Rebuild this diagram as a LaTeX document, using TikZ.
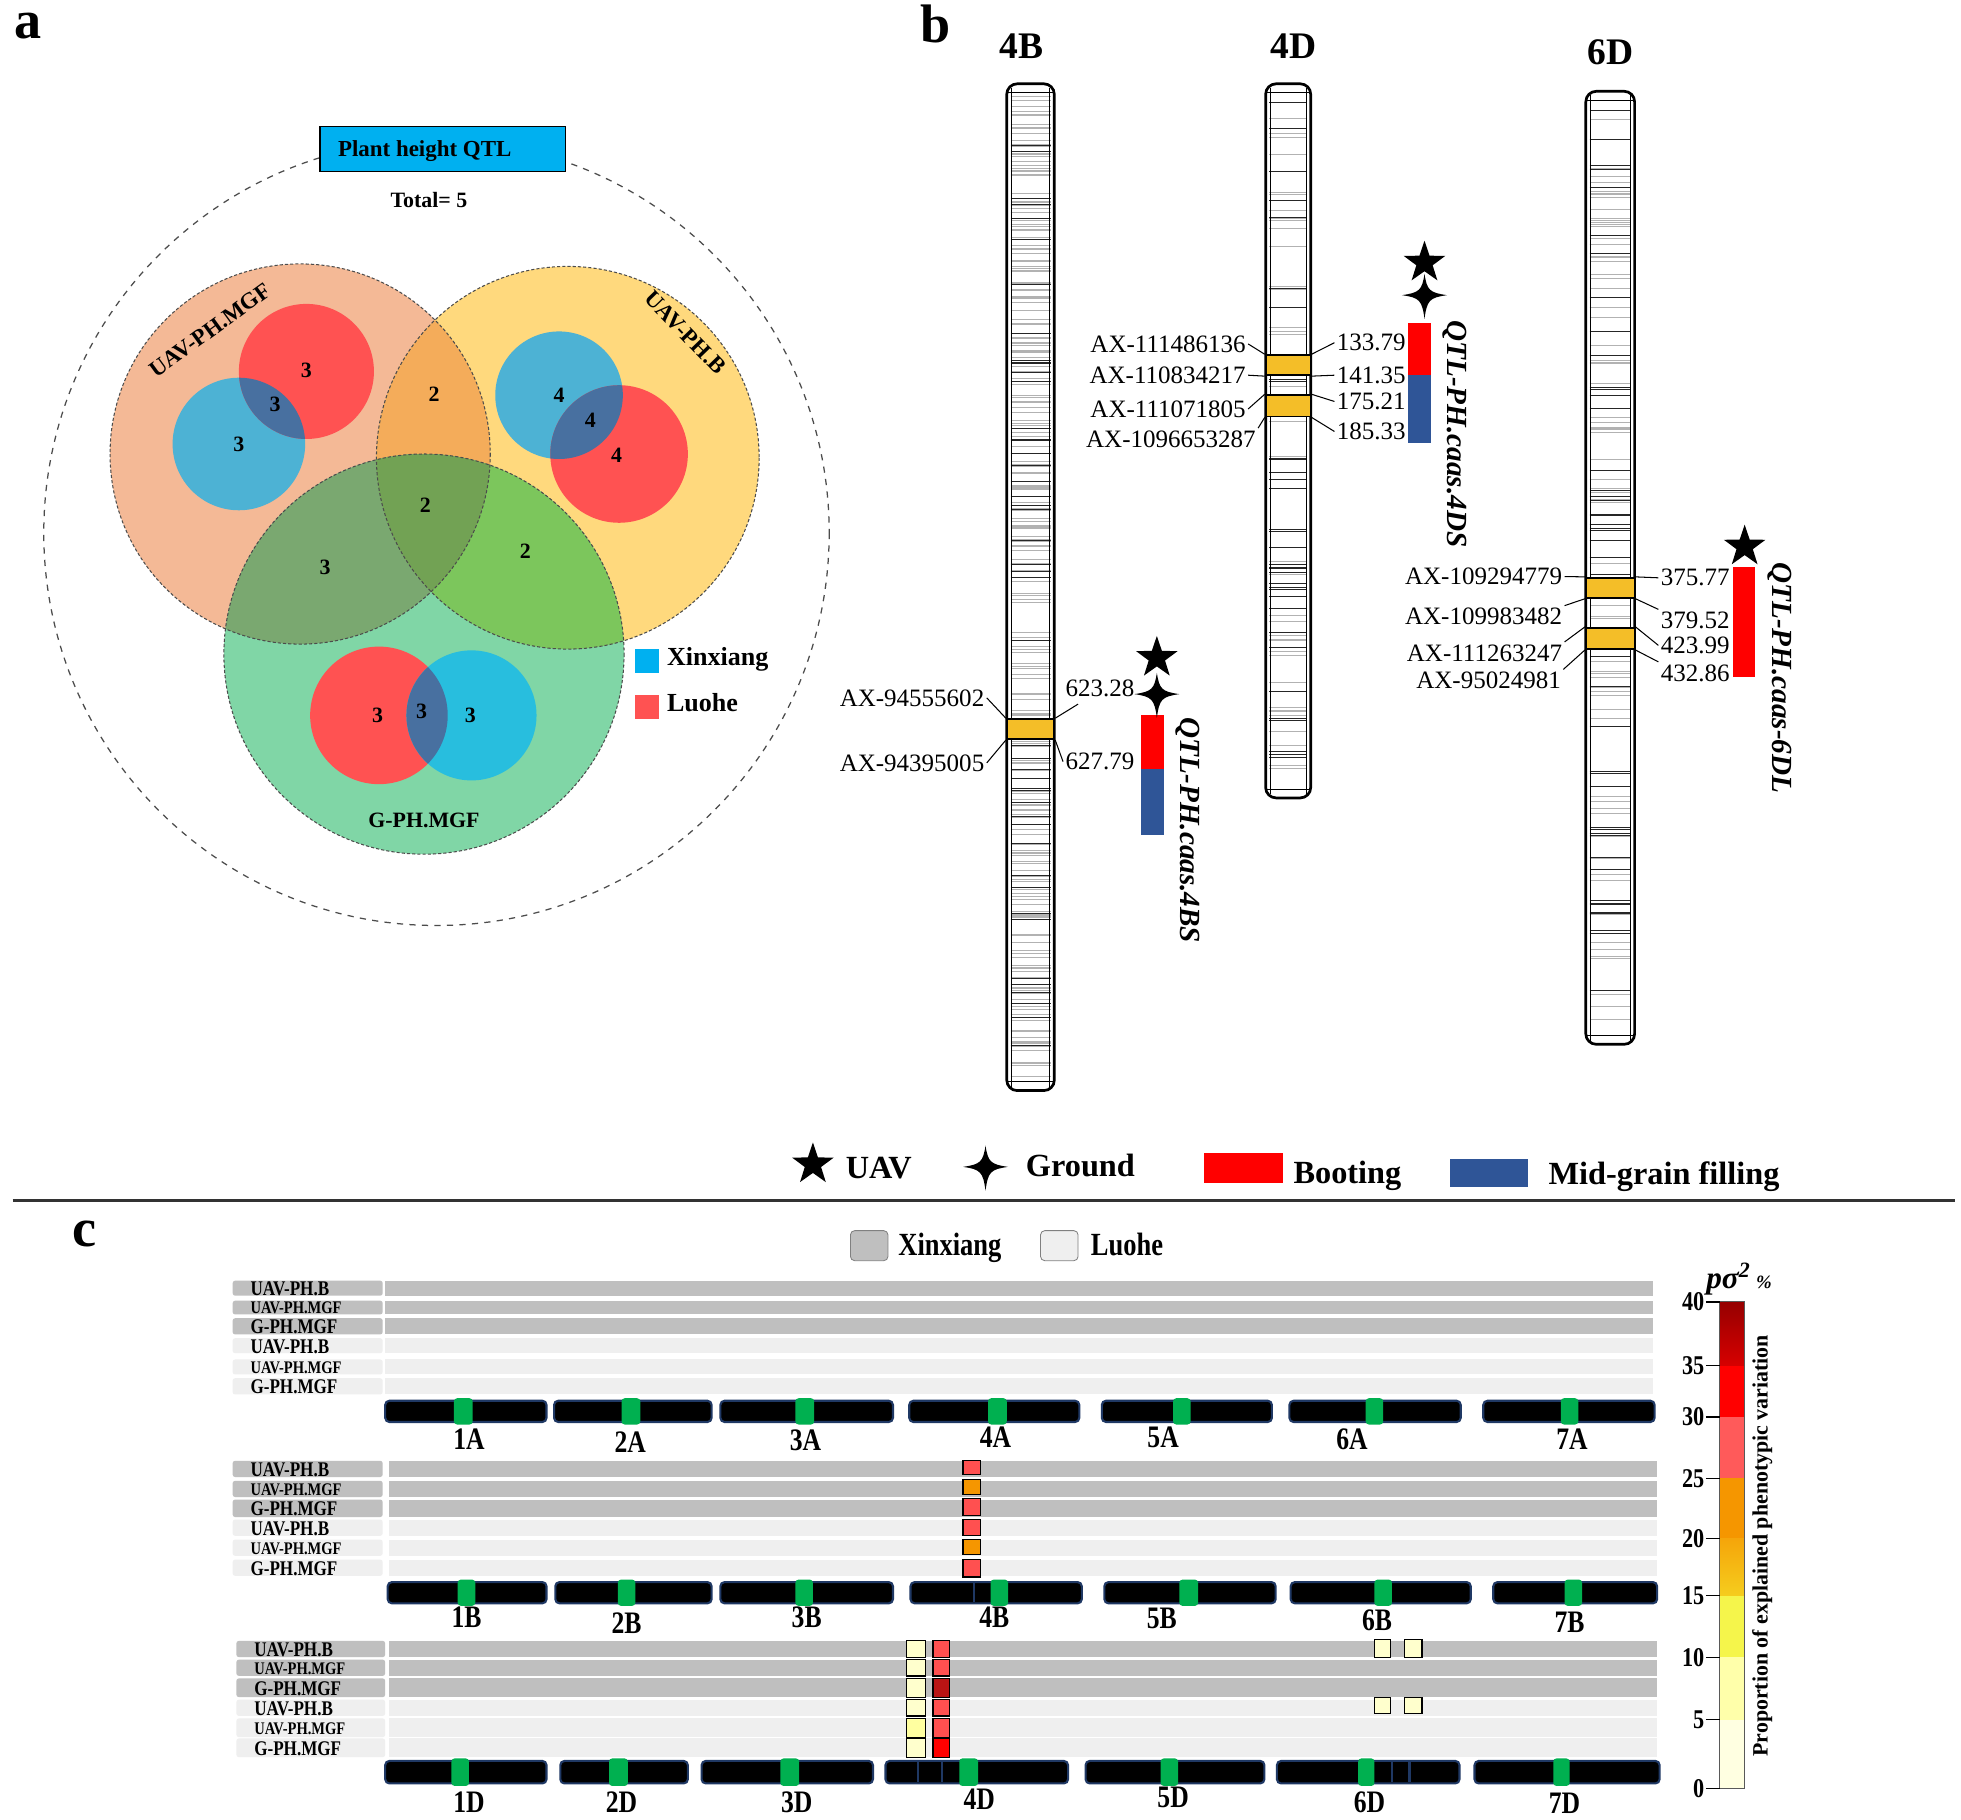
\documentclass[tikz,border=0pt]{standalone}
\usepackage{fontspec}
\setmainfont{Liberation Serif}
\newfontfamily\condfont[FakeStretch=0.82]{Liberation Serif}
\usetikzlibrary{shapes.geometric}
\newcommand\fsz[1]{\fontsize{#1}{#1}\selectfont}
\definecolor{cOr}{RGB}{244,185,150}
\definecolor{cYe}{RGB}{255,217,125}
\definecolor{cOY}{RGB}{244,172,90}
\definecolor{cGr}{RGB}{128,214,166}
\definecolor{cOG}{RGB}{122,168,112}
\definecolor{cYG}{RGB}{124,198,92}
\definecolor{cOYG}{RGB}{114,162,84}
\definecolor{cRed}{RGB}{255,82,82}
\definecolor{cBlu}{RGB}{77,178,212}
\definecolor{cBlu2}{RGB}{40,190,222}
\definecolor{cOv}{RGB}{72,112,160}
\definecolor{cCyan}{RGB}{0,176,240}
\definecolor{segY}{RGB}{244,190,40}
\definecolor{bRed}{RGB}{255,0,0}
\definecolor{bBlue}{RGB}{47,85,151}
\definecolor{xinG}{RGB}{191,191,191}
\definecolor{luoG}{RGB}{239,239,239}
\definecolor{chrBorder}{RGB}{31,56,100}
\definecolor{cenG}{RGB}{0,176,80}
\definecolor{sqSal}{RGB}{255,80,80}
\definecolor{sqOr}{RGB}{245,150,0}
\definecolor{sqDk}{RGB}{185,20,20}
\definecolor{sqPale}{RGB}{255,255,205}
\definecolor{sqPale2}{RGB}{255,255,160}
\newcommand\mychr[6]{%
  \foreach \i in {1,...,#5}{%
    \pgfmathsetmacro\myyy{#3+10+rnd*(#4-#3-20)}%
    \draw[gray!60, line width=0.4pt] (#1+3,\myyy) -- (#2-3,\myyy);}%
  \foreach \i in {1,...,#6}{%
    \pgfmathsetmacro\myyy{#3+10+rnd*(#4-#3-20)}%
    \draw[black!85, line width=0.45pt] (#1+3,\myyy) -- (#2-3,\myyy);}%
  \draw[line width=1.3pt, rounded corners=5pt] (#1,#3) rectangle (#2,#4);
  \draw[line width=0.5pt] (#1+3.5,#3+3) -- (#1+3.5,#4-3) (#2-3.5,#3+3) -- (#2-3.5,#4-3);
  \draw[line width=0.5pt] (#1,#3+7) -- (#2,#3+7) (#1,#4-7) -- (#2,#4-7);
}
\begin{document}
\begin{tikzpicture}[x=0.6pt,y=-0.6pt,
  num/.style={font=\bfseries\fsz{10.5}, inner sep=0},
  vlab/.style={font=\bfseries\fsz{11}, inner sep=0},
  lab/.style={font=\fsz{12}, inner sep=1pt},
  lead/.style={line width=0.5pt},
  vline/.style={draw=black!70, dash pattern=on 1.5pt off 1pt, line width=0.5pt},
  ustar/.style={star, star points=5, star point ratio=2.55, fill=black, inner sep=0, minimum size=21pt},
  gstar/.pic={\fill (0,-17) .. controls (2,-4) and (4,-2) .. (18,0) .. controls (4,2) and (2,4) .. (0,19) .. controls (-2,4) and (-4,2) .. (-18,0) .. controls (-4,-2) and (-2,-4) .. (0,-17) -- cycle;},
  segbox/.style={draw=black, fill=segY, line width=0.9pt, inner sep=0},
  qtl/.style={rotate=-90, font=\bfseries\itshape\fsz{14}, inner sep=0},
  sq/.style={draw=black, line width=0.6pt},
  cbar/.style={fill=black, draw=chrBorder, line width=1pt, rounded corners=2pt},
  clab/.style={font=\condfont\bfseries\fsz{15}, anchor=base, inner sep=0},
  plab/.style={font=\bfseries\fsz{26}, anchor=base west, inner sep=0},
]
\fill[white] (0,0) rectangle (1568,1455);
\useasboundingbox (0,0) rectangle (1568,1455);
\pgfmathsetseed{7}

% ================= panel a =================
\node[plab] (pa) at (11,31) {a};
\draw[dashed, black!70, line width=0.6pt] (349,426) circle (314);

\def\cO{(240,363) circle (152)}
\def\cY{(454,366) circle (153)}
\def\cG{(339,523) circle (160)}
\fill[cOr] \cO;
\fill[cYe] \cY;
\begin{scope}\clip \cO; \fill[cOY] \cY;\end{scope}
\fill[cGr] \cG;
\begin{scope}\clip \cG; \fill[cOG] \cO; \fill[cYG] \cY; \clip \cO; \fill[cOYG] \cY;\end{scope}

\fill[cBlu] (191,355) circle (53);
\fill[cRed] (245,297) circle (54);
\begin{scope}\clip (191,355) circle (53); \fill[cOv] (245,297) circle (54);\end{scope}
\fill[cBlu] (447,316) circle (51);
\fill[cRed] (495,363) circle (55);
\begin{scope}\clip (447,316) circle (51); \fill[cOv] (495,363) circle (55);\end{scope}
\fill[cRed] (303,572) circle (55);
\fill[cBlu2] (377,572) circle (52);
\begin{scope}\clip (303,572) circle (55); \fill[cOv] (377,572) circle (52);\end{scope}

\draw[vline] \cO; \draw[vline] \cY; \draw[vline] \cG;

\node[draw=black, fill=cCyan, line width=0.7pt, minimum width=117.6pt, minimum height=21.6pt, inner sep=0] (phb) at (354,119) {};
\node[anchor=base west, font=\bfseries\fsz{11}, inner sep=0] (pht) at (270,125) {Plant height QTL};
\node[font=\bfseries\fsz{10.5}, inner sep=0] (tot) at (343,160) {Total= 5};

\node[vlab, rotate=36] (v1) at (168,264) {UAV-PH.MGF};
\node[vlab, rotate=-46] (v2) at (548,266) {UAV-PH.B};
\node[vlab, font=\bfseries\fsz{10.5}] (v3) at (339,656) {G-PH.MGF};

\node[num] (n1) at (245,296) {3};
\node[num] (n2) at (220,323) {3};
\node[num] (n3) at (191,355) {3};
\node[num] (n4) at (347,315) {2};
\node[num] (n5) at (447,316) {4};
\node[num] (n6) at (472,336) {4};
\node[num] (n7) at (493,364) {4};
\node[num] (n8) at (340,404) {2};
\node[num] (n9) at (260,454) {3};
\node[num] (n10) at (420,441) {2};
\node[num] (n11) at (302,572) {3};
\node[num] (n12) at (337,569) {3};
\node[num] (n13) at (376,572) {3};

\node[fill=cCyan, minimum size=11.4pt, inner sep=0] (lgx) at (517.5,528.5) {};
\node[anchor=west, font=\bfseries\fsz{12.5}, inner sep=0] (lgxt) at (533,527) {Xinxiang};
\node[fill=cRed, minimum size=11.4pt, inner sep=0] (lgl) at (517.5,565.5) {};
\node[anchor=west, font=\bfseries\fsz{12.5}, inner sep=0] (lglt) at (533,562) {Luohe};

% ================= panel b =================
\node[plab] (pb) at (736,34) {b};
\node[font=\bfseries\fsz{18}, inner sep=0] (t4b) at (817,37) {4B};
\node[font=\bfseries\fsz{18}, inner sep=0] (t4d) at (1034,37) {4D};
\node[font=\bfseries\fsz{18}, inner sep=0] (t6d) at (1288,42) {6D};

\mychr{805}{843}{67}{872}{240}{50}
\mychr{1012}{1048}{67}{638}{40}{40}
\mychr{1268}{1307}{73}{835}{85}{50}

% 4B
\node[segbox, minimum width=22.8pt, minimum height=9.6pt] (s4b) at (824,583) {};
\node[lab, anchor=east] (m1) at (789,558) {AX-94555602};
\node[lab, anchor=east] (m2) at (789,610) {AX-94395005};
\node[lab, anchor=west] (r1) at (850,550) {623.28};
\node[lab, anchor=west] (r2) at (850,609) {627.79};
\coordinate (r1e) at (862,563);
\draw[lead] (m1.east) -- (s4b.north west);
\draw[lead] (m2.east) -- (s4b.south west);
\draw[lead] (s4b.north east) -- (r1e);
\draw[lead] (s4b.south east) -- (r2.west);
\fill[bRed] (912,572) rectangle (931,615);
\fill[bBlue] (912,615) rectangle (931,668);
\node[ustar] (st4b) at (925,526) {};
\pic at (925,555) {gstar};
\node[qtl] (q4b) at (950,664) {QTL-PH.caas.4BS};

% 4D
\node[segbox, minimum width=21.6pt, minimum height=9.6pt] (s4d1) at (1030,292) {};
\node[segbox, minimum width=21.6pt, minimum height=10.2pt] (s4d2) at (1030,324.5) {};
\node[lab, anchor=east] (d1) at (998,275) {AX-111486136};
\node[lab, anchor=east] (d2) at (998,300) {AX-110834217};
\node[lab, anchor=east] (d3) at (998,327) {AX-111071805};
\node[lab, anchor=east] (d4) at (1006,351) {AX-1096653287};
\node[lab, anchor=west] (e1) at (1067,274) {133.79};
\node[lab, anchor=west] (e2) at (1067,300) {141.35};
\node[lab, anchor=west] (e3) at (1067,321) {175.21};
\node[lab, anchor=west] (e4) at (1067,345) {185.33};
\draw[lead] (d1.east) -- (s4d1.north west);
\draw[lead] (d2.east) -- (s4d1.south west);
\draw[lead] (d3.east) -- (s4d2.north west);
\draw[lead] (d4.north east) -- (s4d2.south west);
\draw[lead] (s4d1.north east) -- (e1.west);
\draw[lead] (s4d1.south east) -- (e2.west);
\draw[lead] (s4d2.north east) -- (e3.west);
\draw[lead] (s4d2.south east) -- (e4.west);
\fill[bRed] (1126,258) rectangle (1144,300);
\fill[bBlue] (1126,300) rectangle (1144,354);
\node[ustar] (st4d) at (1139,210) {};
\pic at (1139,236) {gstar};
\node[qtl] (q4d) at (1163,347) {QTL-PH.caas.4DS};

% 6D
\node[segbox, minimum width=23.4pt, minimum height=9.6pt] (s6d1) at (1287.5,470) {};
\node[segbox, minimum width=23.4pt, minimum height=10.2pt] (s6d2) at (1287.5,510.5) {};
\node[lab, anchor=east] (k1) at (1251,461) {AX-109294779};
\node[lab, anchor=east] (k2) at (1251,493) {AX-109983482};
\node[lab, anchor=east] (k3) at (1251,522) {AX-111263247};
\node[lab, anchor=east] (k4) at (1250,544) {AX-95024981};
\node[lab, anchor=west] (g1) at (1326,462) {375.77};
\node[lab, anchor=west] (g2) at (1326,496) {379.52};
\node[lab, anchor=west] (g3) at (1326,516) {423.99};
\node[lab, anchor=west] (g4) at (1326,538) {432.86};
\draw[lead] (k1.east) -- (s6d1.north west);
\draw[lead] (k2.north east) -- (s6d1.south west);
\draw[lead] (k3.north east) -- (s6d2.north west);
\draw[lead] (k4.north east) -- (s6d2.south west);
\draw[lead] (s6d1.north east) -- (g1.west);
\draw[lead] (s6d1.south east) -- (g2.north west);
\draw[lead] (s6d2.north east) -- (g3.west);
\draw[lead] (s6d2.south east) -- (g4.north west);
\fill[bRed] (1386,453) rectangle (1403,541);
\node[ustar] (st6d) at (1395,437) {};
\node[qtl] (q6d) at (1423,542) {QTL-PH.caas-6DL};

% legend b
\node[ustar] (lst) at (650,931) {};
\node[anchor=base west, font=\bfseries\fsz{15.5}, inner sep=0] (tuav) at (676,942) {UAV};
\pic at (788,933) {gstar};
\node[anchor=base west, font=\bfseries\fsz{15.5}, inner sep=0] (tgr) at (820,941) {Ground};
\node[fill=bRed, minimum width=37.8pt, minimum height=14.4pt, inner sep=0] (lgb) at (994.5,934) {};
\node[anchor=base west, font=\bfseries\fsz{15.5}, inner sep=0] (tboot) at (1034,946) {Booting};
\node[fill=bBlue, minimum width=37.8pt, minimum height=13.2pt, inner sep=0] (lgm) at (1190.5,938) {};
\node[anchor=base west, font=\bfseries\fsz{15.5}, inner sep=0] (tmid) at (1238,947) {Mid-grain filling};

\draw[line width=1.3pt, gray!40!black] (10,960) -- (1563,960);

% ================= panel c =================
\node[plab] (pc) at (58,997) {c};
\node[draw=gray, fill=xinG, rounded corners=2pt, minimum width=18pt, minimum height=14.4pt, inner sep=0] (lgX) at (695,996) {};
\node[anchor=base west, font=\condfont\bfseries\fsz{15.5}, inner sep=0] (tX) at (718,1004) {Xinxiang};
\node[draw=gray, fill=luoG, rounded corners=2pt, minimum width=18pt, minimum height=14.4pt, inner sep=0] (lgL) at (847,996) {};
\node[anchor=base west, font=\condfont\bfseries\fsz{15.5}, inner sep=0] (tL) at (872,1004) {Luohe};

% rows block A
\foreach \ta/\tb/\tc/\tl/\tf [count=\k] in {1024/1036/xinG/UAV-PH.B/10, 1040/1051/xinG/UAV-PH.MGF/8.5, 1054/1067/xinG/G-PH.MGF/10, 1070/1082/luoG/UAV-PH.B/10, 1087/1099/luoG/UAV-PH.MGF/8.5, 1102/1115/luoG/G-PH.MGF/10}{
  \fill[\tc, rounded corners=1.2pt] (186,\ta) rectangle (306,\tb);
  \fill[\tc] (308,\ta) rectangle (1322,\tb);
  \node[anchor=west, font=\condfont\bfseries\fsz{\tf}, inner sep=0] (ra\k) at (200,{(\ta+\tb)/2+0.5}) {\tl};
}
% rows block B
\foreach \ta/\tb/\tc/\tl/\tf [count=\k] in {1168/1181/xinG/UAV-PH.B/10, 1184/1197/xinG/UAV-PH.MGF/8.5, 1199/1213/xinG/G-PH.MGF/10, 1215/1228/luoG/UAV-PH.B/10, 1231/1244/luoG/UAV-PH.MGF/8.5, 1247/1260/luoG/G-PH.MGF/10}{
  \fill[\tc, rounded corners=1.2pt] (186,\ta) rectangle (306,\tb);
  \fill[\tc] (311,\ta) rectangle (1325,\tb);
  \node[anchor=west, font=\condfont\bfseries\fsz{\tf}, inner sep=0] (rb\k) at (200,{(\ta+\tb)/2+0.5}) {\tl};
}
% rows block D
\foreach \ta/\tb/\tc/\tl/\tf [count=\k] in {1312/1325/xinG/UAV-PH.B/10, 1327/1340/xinG/UAV-PH.MGF/8.5, 1342/1357/xinG/G-PH.MGF/10, 1359/1372/luoG/UAV-PH.B/10, 1374/1389/luoG/UAV-PH.MGF/8.5, 1390/1405/luoG/G-PH.MGF/10}{
  \fill[\tc, rounded corners=1.2pt] (189,\ta) rectangle (308,\tb);
  \fill[\tc] (311,\ta) rectangle (1325,\tb);
  \node[anchor=west, font=\condfont\bfseries\fsz{\tf}, inner sep=0] (rd\k) at (203,{(\ta+\tb)/2+0.5}) {\tl};
}

% chromosome bars A
\foreach \xa/\xb/\ga/\gb/\nm/\lx/\ly in {308/437/363/378/1A/375/1159, 443/569/497/512/2A/504/1161, 576/714/636/651/3A/644/1160, 727/863/790/805/4A/796/1157, 881/1017/938/952/5A/930/1157, 1031/1168/1092/1106/6A/1081/1159, 1186/1323/1248/1262/7A/1257/1159}{
  \draw[cbar] (\xa,1120) rectangle (\xb,1137);
  \fill[cenG, rounded corners=1.5pt] (\ga,1118) rectangle (\gb,1139);
  \node[clab] (ch\nm) at (\lx,\ly) {\nm};
}
% chromosome bars B
\foreach \xa/\xb/\ga/\gb/\nm/\lx/\ly in {310/437/366/380/1B/373/1301, 444/569/494/508/2B/501/1306, 576/714/636/650/3B/645/1301, 728/865/792/806/4B/795/1301, 883/1020/943/958/5B/929/1302, 1032/1176/1099/1113/6B/1101/1304, 1194/1325/1251/1265/7B/1255/1305}{
  \draw[cbar] (\xa,1265) rectangle (\xb,1282);
  \fill[cenG, rounded corners=1.5pt] (\ga,1263) rectangle (\gb,1284);
  \node[clab] (ch\nm) at (\lx,\ly) {\nm};
}
\draw[chrBorder, line width=1pt] (779,1266) -- (779,1281);
% chromosome bars D
\foreach \xa/\xb/\ga/\gb/\nm/\lx/\ly in {308/437/361/375/1D/375/1449, 448/550/487/502/2D/497/1449, 561/698/624/639/3D/637/1449, 708/854/767/782/4D/783/1447, 868/1011/928/942/5D/938/1445, 1021/1167/1086/1099/6D/1095/1449, 1179/1327/1242/1255/7D/1251/1450}{
  \draw[cbar] (\xa,1408) rectangle (\xb,1426);
  \fill[cenG, rounded corners=1.5pt] (\ga,1406) rectangle (\gb,1428);
  \node[clab] (ch\nm) at (\lx,\ly) {\nm};
}
\draw[chrBorder, line width=1pt] (734,1409) -- (734,1425) (753,1409) -- (753,1425) (1113,1409) -- (1113,1425) (1127,1409) -- (1127,1425);

% squares 4B
\foreach \ta/\tb/\tc in {1168/1179/sqSal, 1183/1195/sqOr, 1198/1212/sqSal, 1215/1228/sqSal, 1231/1243/sqOr, 1247/1261/sqSal}{
  \filldraw[sq, fill=\tc] (770,\ta) rectangle (784,\tb);
}
% squares 4D
\foreach \ta/\tb/\tc/\td in {1312/1325/sqPale/sqSal, 1327/1340/sqPale/sqSal, 1342/1357/sqPale/sqDk, 1359/1372/sqPale/sqSal, 1374/1389/sqPale2/sqSal, 1390/1405/sqPale/bRed}{
  \filldraw[sq, fill=\tc] (725,\ta) rectangle (740,\tb);
  \filldraw[sq, fill=\td] (746,\ta) rectangle (759,\tb);
}
% squares 6D
\foreach \ta/\tb in {1311/1325, 1357/1370}{
  \filldraw[sq, fill=sqPale] (1099,\ta) rectangle (1112,\tb);
  \filldraw[sq, fill=sqPale] (1123,\ta) rectangle (1137,\tb);
}

% colour bar
\shade[top color={rgb,255:red,150;green,0;blue,0}, bottom color={rgb,255:red,215;green,0;blue,0}] (1375,1041) rectangle (1395,1092);
\fill[bRed] (1375,1092) rectangle (1395,1133);
\fill[color={rgb,255:red,255;green,90;blue,90}] (1375,1133) rectangle (1395,1182);
\fill[color={rgb,255:red,245;green,150;blue,0}] (1375,1182) rectangle (1395,1230);
\shade[top color={rgb,255:red,245;green,165;blue,10}, bottom color={rgb,255:red,245;green,205;blue,30}] (1375,1230) rectangle (1395,1276);
\fill[color={rgb,255:red,245;green,245;blue,75}] (1375,1276) rectangle (1395,1325);
\fill[color={rgb,255:red,255;green,255;blue,170}] (1375,1325) rectangle (1395,1375);
\fill[color={rgb,255:red,255;green,255;blue,225}] (1375,1375) rectangle (1395,1430);
\draw[gray!70!black, line width=0.5pt] (1375,1041) rectangle (1395,1430);
\foreach \tv/\ty in {40/1041, 35/1092, 30/1133, 25/1182, 20/1230, 15/1276, 10/1325, 5/1375, 0/1430}{
  \draw[line width=0.6pt] (1364,\ty) -- (1375,\ty);
  \node[anchor=east, font=\condfont\bfseries\fsz{13}, inner sep=0] (tk\tv) at (1363,\ty) {\tv};
}
\node[anchor=base west, font=\bfseries\itshape\fsz{15}, inner sep=0] (psig) at (1364,1030) {pσ\textsuperscript{2}\,{\fsz{9}\%}};
\node[rotate=90, font=\bfseries\fsz{10.5}, inner sep=0] (pvar) at (1409,1236) {Proportion of explained phenotypic variation};
\end{tikzpicture}
\end{document}
